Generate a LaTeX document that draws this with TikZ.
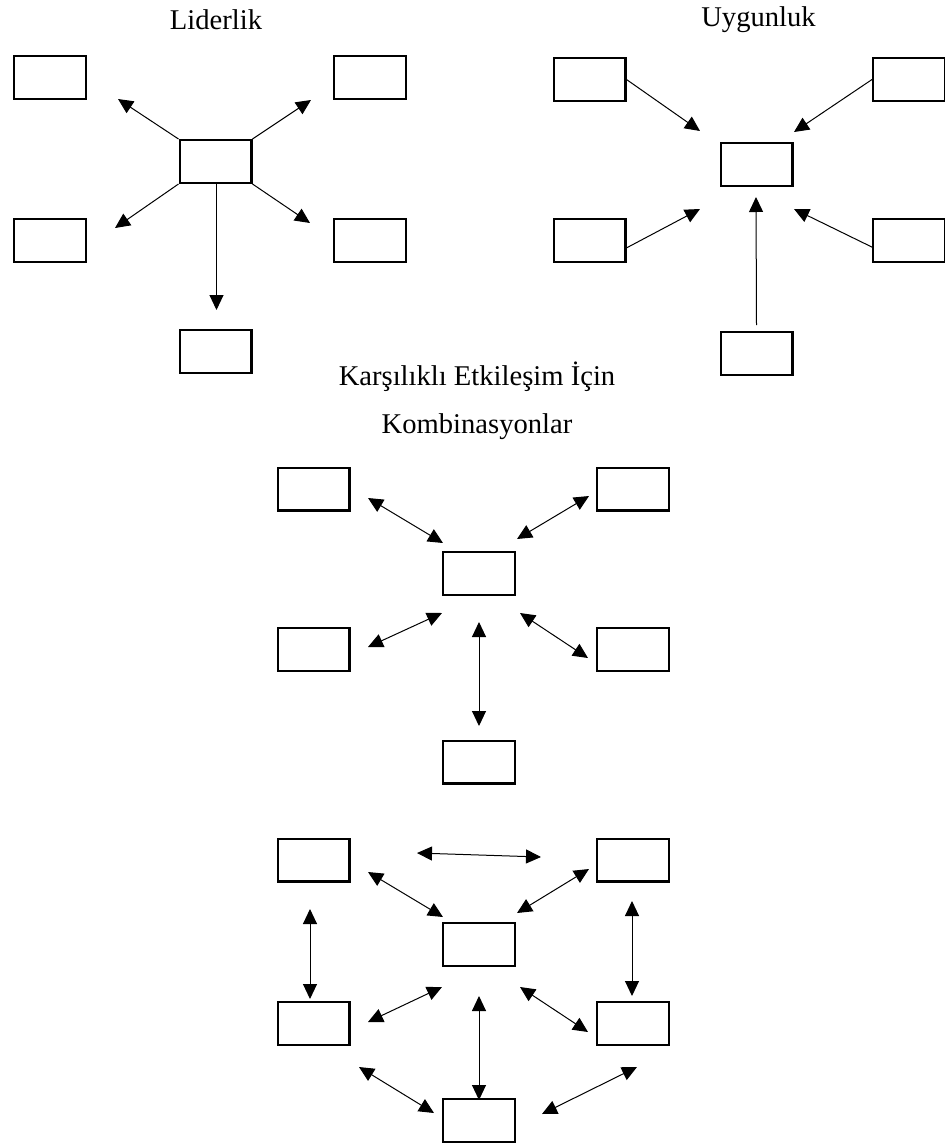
\documentclass[tikz,border=0pt]{standalone}
\usepackage{fontspec}
\setmainfont{Liberation Serif}
\usetikzlibrary{arrows.meta}

\begin{document}
\begin{tikzpicture}[
        x=0.5pt, y=-0.5pt,
        >={Triangle[length=7.5pt,width=7pt]},
        box/.style={draw, line width=1.2pt, minimum width=35.8pt, minimum height=21.3pt, inner sep=0pt},
        arr/.style={line width=0.5pt},
        ttl/.style={font=\fontsize{14.3}{17}\selectfont, anchor=base, inner sep=0pt}
    ]
        \useasboundingbox (0,0) rectangle (944,1146);

        % Liderlik
        \node[ttl] (tlid) at (216,29) {Liderlik};
        \node[box] (lc)  at (215.5,161.5) {};
        \node[box] (lnw) at (50,77.5)     {};
        \node[box] (lne) at (370,77.5)    {};
        \node[box] (lsw) at (50,240.5)    {};
        \node[box] (lse) at (370,240.5)   {};
        \node[box] (ls)  at (215.5,351.5) {};

        \coordinate (lnwT) at (118,99);
        \coordinate (lneT) at (311,100);
        \coordinate (lswT) at (115,228);
        \coordinate (lseT) at (310,223);
        \coordinate (lsT)  at (216.5,310);
        \draw[arr,->] (lc.north west) -- (lnwT);
        \draw[arr,->] (lc.north east) -- (lneT);
        \draw[arr,->] (lc.south west) -- (lswT);
        \draw[arr,->] (lc.south east) -- (lseT);
        \draw[arr,->] (lc.south -| lsT) -- (lsT);

        % Uygunluk
        \node[ttl] (tuyg) at (758.5,26) {Uygunluk};
        \node[box] (uc)  at (756.5,164.5) {};
        \node[box] (unw) at (589.5,79.5)  {};
        \node[box] (une) at (909,79.5)    {};
        \node[box] (usw) at (589.5,240.5) {};
        \node[box] (use) at (909,240.5)   {};
        \node[box] (us)  at (756.5,353.5) {};

        \coordinate (unwT) at (700,131);
        \coordinate (uneT) at (794,132);
        \coordinate (uswT) at (700,209);
        \coordinate (useT) at (794,209);
        \coordinate (usT)  at (756,197);
        \draw[arr,->] (unw.east) -- (unwT);
        \draw[arr,->] (une.west) -- (uneT);
        \draw[arr,->] ([yshift=-3.7pt]usw.east) -- (uswT);
        \draw[arr,->] ([yshift=-3.3pt]use.west) -- (useT);
        \draw[arr,->] ([yshift=3pt]us.north) -- (usT);

        % Karsilikli etkilesim
        \node[ttl] (tkar) at (477,385) {Karşılıklı Etkileşim İçin};
        \node[ttl] (tkom) at (477,433) {Kombinasyonlar};
        \node[box] (kc)  at (479,573.5)   {};
        \node[box] (knw) at (313.5,489)   {};
        \node[box] (kne) at (633,489)     {};
        \node[box] (ksw) at (313.5,649.5) {};
        \node[box] (kse) at (633,649.5)   {};
        \node[box] (ks)  at (479,762)     {};

        \coordinate (knwA) at (368,498);  \coordinate (knwB) at (443,543);
        \coordinate (kneA) at (589,496);  \coordinate (kneB) at (517,539);
        \coordinate (kswA) at (368,647);  \coordinate (kswB) at (442,613);
        \coordinate (kseA) at (588,658);  \coordinate (kseB) at (520,613);
        \coordinate (ksA)  at (479,726);  \coordinate (ksB)  at (479,622);
        \draw[arr,<->] (knwA) -- (knwB);
        \draw[arr,<->] (kneA) -- (kneB);
        \draw[arr,<->] (kswA) -- (kswB);
        \draw[arr,<->] (kseA) -- (kseB);
        \draw[arr,<->] (ksA)  -- (ksB);

        % tam etkilesim
        \node[box] (mc)  at (479,944.5)    {};
        \node[box] (mnw) at (313.5,860)    {};
        \node[box] (mne) at (633,860)      {};
        \node[box] (msw) at (313.5,1023.5) {};
        \node[box] (mse) at (633,1023.5)   {};
        \node[box] (ms)  at (479,1120.5)   {};

        \coordinate (mtA)  at (417,853);  \coordinate (mtB)  at (541,857);
        \coordinate (mnwA) at (368,872);  \coordinate (mnwB) at (443,917);
        \coordinate (mneA) at (589,869);  \coordinate (mneB) at (517,913);
        \coordinate (mlA)  at (310,909);  \coordinate (mlB)  at (310,999);
        \coordinate (mrA)  at (632,901);  \coordinate (mrB)  at (632,996);
        \coordinate (mswA) at (368,1022); \coordinate (mswB) at (442,987);
        \coordinate (mseA) at (588,1032); \coordinate (mseB) at (520,987);
        \coordinate (mcA)  at (479,996);  \coordinate (mcB)  at (479,1100);
        \coordinate (mblA) at (359,1067); \coordinate (mblB) at (434,1113);
        \coordinate (mbrA) at (637,1067); \coordinate (mbrB) at (542,1114);
        \draw[arr,<->] (mtA)  -- (mtB);
        \draw[arr,<->] (mnwA) -- (mnwB);
        \draw[arr,<->] (mneA) -- (mneB);
        \draw[arr,<->] (mlA)  -- (mlB);
        \draw[arr,<->] (mrA)  -- (mrB);
        \draw[arr,<->] (mswA) -- (mswB);
        \draw[arr,<->] (mseA) -- (mseB);
        \draw[arr,<->] (mcA)  -- (mcB);
        \draw[arr,<->] (mblA) -- (mblB);
        \draw[arr,<->] (mbrA) -- (mbrB);
    \end{tikzpicture}
\end{document}
